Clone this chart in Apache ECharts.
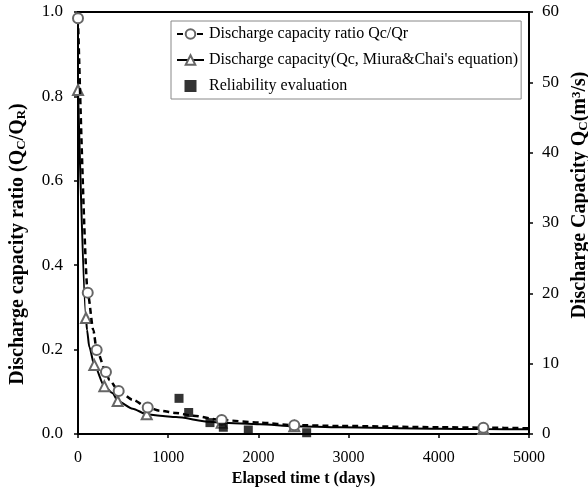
<!DOCTYPE html>
<html>
<head>
<meta charset="utf-8">
<script src="https://cdn.jsdelivr.net/npm/echarts@6/dist/echarts.min.js"></script>
<style>html,body{margin:0;padding:0;background:#fff;}#c{width:588px;height:491px;}</style>
</head>
<body>
<div id="c"></div>
<script>
// Values (elapsed time in days)
// Dashed curve: discharge capacity ratio Qc/Qr (left axis) - points between markers
const ratioCurveDays   = [170, 347, 606, 909, 1086, 1279, 2018, 2905, 4013, 5000];
const ratioCurveValues = [0.246, 0.128, 0.081, 0.055, 0.050, 0.043, 0.027, 0.019, 0.016, 0.0135];
// circle markers on the dashed curve
const ratioMarkDays    = [0, 108, 207, 310, 451, 773, 1593, 2398, 4494];
const ratioMarkValues  = [0.985, 0.335, 0.199, 0.147, 0.102, 0.063, 0.033, 0.021, 0.015];
// Solid curve: discharge capacity Qc, Miura & Chai (right axis, m3/s) - points between markers
const qcCurveDays   = [100, 125, 385, 606, 909, 1086, 1463, 2018, 2905, 4013, 5000];
const qcCurveValues = [14.8, 12.4, 5.8, 3.6, 2.6, 2.4, 1.75, 1.38, 0.95, 0.75, 0.67];
// triangle markers on the solid curve
const qcMarkDays    = [0, 88, 181, 292, 440, 762, 1593, 2398, 4494];
const qcMarkValues  = [48.9, 16.5, 9.8, 6.8, 4.7, 2.8, 1.6, 1.1, 0.7];
// Reliability evaluation (left axis)
const relDays   = [1120, 1227, 1463, 1611, 1888, 2535];
const relValues = [0.0845, 0.051, 0.027, 0.016, 0.0095, 0.003];
const xTicks = [0, 1000, 2000, 3000, 4000, 5000];
const seriesNames = ['Discharge capacity ratio Qc/Qr', "Discharge capacity(Qc, Miura&Chai's equation)", 'Reliability evaluation'];

const font = 'Liberation Serif';
const zip = (xs, ys) => xs.map((x, i) => [x, ys[i]]);
// merge curve points (no symbol) and marker points (with symbol), sorted by time
function mergeCurve(cd, cv, md, mv) {
  const items = cd.map((d, i) => ({ value: [d, cv[i]], symbol: 'none' }))
    .concat(md.map((d, i) => ({ value: [d, mv[i]] })));
  return items.sort((a, b) => a.value[0] - b.value[0]);
}
const chart = echarts.init(document.getElementById('c'));
const axisCommon = {
  axisLine: { show: true, lineStyle: { color: '#000', width: 2 } },
  axisTick: { show: true, inside: false, length: 4, lineStyle: { color: '#000', width: 1.5 } },
  splitLine: { show: false }
};
const nameRich = {
  b: { fontFamily: font, fontSize: 20, fontWeight: 'bold', color: '#000' },
  s: { fontFamily: font, fontSize: 13, fontWeight: 'bold', color: '#000', verticalAlign: 'bottom', padding: [7, 0, 0, 0] },
  p: { fontFamily: font, fontSize: 13, fontWeight: 'bold', color: '#000', verticalAlign: 'top', padding: [0, 0, 7, 0] }
};
chart.setOption({
  animation: false,
  backgroundColor: '#fff',
  grid: { left: 78, right: 59, top: 12, bottom: 57, show: true, borderColor: '#000', borderWidth: 2,
    containLabel: false, outerBoundsMode: 'none' },
  legend: {
    orient: 'vertical', left: 171, top: 21,
    padding: [5, 3, 5, 5], itemGap: 10, itemWidth: 27, itemHeight: 12,
    backgroundColor: '#fff', borderColor: '#888', borderWidth: 1,
    textStyle: { fontFamily: font, fontSize: 16, color: '#000' },
    data: [seriesNames[0], seriesNames[1],
      { name: seriesNames[2], icon: 'path://M0,0H10V10H0Z' }]
  },
  xAxis: Object.assign({}, axisCommon, {
    type: 'value', min: 0, max: 5000, interval: 1000,
    name: 'Elapsed time t (days)', nameLocation: 'middle', nameGap: 37,
    nameTextStyle: { fontFamily: font, fontSize: 16, fontWeight: 'bold', color: '#000' },
    axisLabel: { color: '#000', fontFamily: font, fontSize: 16, margin: 16,
      formatter: v => (xTicks.indexOf(v) >= 0 ? String(v) : '') }
  }),
  yAxis: [
    Object.assign({}, axisCommon, {
      type: 'value', min: 0, max: 1, interval: 0.2, position: 'left',
      name: '{b|Discharge capacity ratio (Q}{s|C}{b|/Q}{s|R}{b|)}',
      nameLocation: 'middle', nameRotate: 90, nameGap: 50,
      nameTextStyle: { rich: nameRich, padding: [0, 42, 0, 0] },
      axisLabel: { color: '#000', fontFamily: font, fontSize: 17, margin: 15, formatter: v => v.toFixed(1) }
    }),
    Object.assign({}, axisCommon, {
      type: 'value', min: 0, max: 60, interval: 10, position: 'right',
      name: '{b|Discharge Capacity Q}{s|C}{b|(m}{p|3}{b|/s)}',
      nameLocation: 'middle', nameRotate: 90, nameGap: 39,
      nameTextStyle: { rich: nameRich, padding: [0, 0, 0, 56] },
      axisLabel: { color: '#000', fontFamily: font, fontSize: 17, margin: 13 }
    })
  ],
  series: [
    {
      name: seriesNames[0], type: 'line', yAxisIndex: 0,
      data: mergeCurve(ratioCurveDays, ratioCurveValues, ratioMarkDays, ratioMarkValues),
      smooth: 0.25, smoothMonotone: 'x', showAllSymbol: true,
      symbol: 'emptyCircle', symbolSize: 10,
      lineStyle: { color: '#000', width: 2.5, type: [6, 4] },
      itemStyle: { color: '#666', borderWidth: 1 }, z: 3
    },
    {
      name: seriesNames[1], type: 'line', yAxisIndex: 1,
      data: mergeCurve(qcCurveDays, qcCurveValues, qcMarkDays, qcMarkValues),
      smooth: 0.25, smoothMonotone: 'x', showAllSymbol: true,
      symbol: 'emptyTriangle', symbolSize: 10,
      lineStyle: { color: '#000', width: 2 },
      itemStyle: { color: '#666', borderWidth: 1 }, z: 2
    },
    {
      name: seriesNames[2], type: 'scatter', yAxisIndex: 0,
      data: zip(relDays, relValues),
      symbol: 'rect', symbolSize: 9,
      itemStyle: { color: '#000' }, z: 5
    }
  ]
});
</script>
</body>
</html>
